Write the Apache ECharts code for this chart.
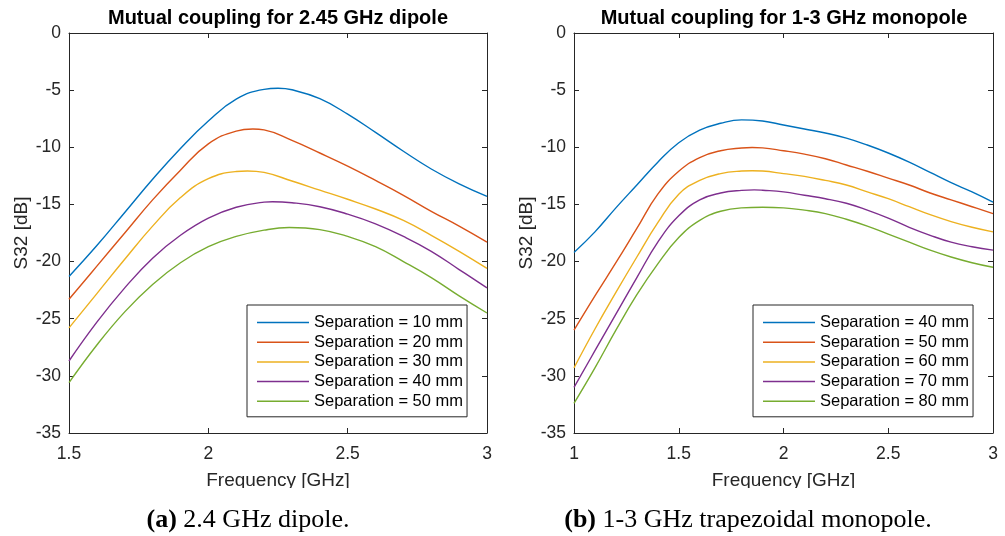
<!DOCTYPE html>
<html>
<head>
<meta charset="utf-8">
<script src="https://cdn.jsdelivr.net/npm/echarts@6/dist/echarts.min.js"></script>
<style>
html,body{margin:0;padding:0;background:#fff;}
#chart{width:1005px;height:536px;}
</style>
</head>
<body>
<div id="chart"></div>
<script>
// ---- Left plot: 2.45 GHz dipole (each series has its own frequency list) ----
const freqL10 = [1.5,1.6,1.7,1.8,1.9,2.0,2.1,2.2,2.25,2.3,2.4,2.5,2.6,2.7,2.8,2.9,3.0];
const dip10   = [-21.3,-18.6,-15.7,-12.8,-10.1,-7.7,-5.79,-4.93,-4.84,-4.97,-5.75,-7.1,-8.7,-10.35,-11.9,-13.2,-14.3];
const freqL20 = [1.5,1.6,1.7,1.8,1.9,2.0,2.1,2.16,2.2,2.3,2.4,2.5,2.6,2.7,2.8,2.9,3.0];
const dip20   = [-23.3,-20.4,-17.5,-14.6,-12.0,-9.7,-8.58,-8.4,-8.48,-9.4,-10.5,-11.65,-12.9,-14.2,-15.6,-16.9,-18.3];
const freqL30 = [1.5,1.6,1.7,1.8,1.9,2.0,2.1,2.14,2.2,2.3,2.4,2.5,2.6,2.7,2.8,2.9,3.0];
const dip30   = [-25.8,-22.8,-19.8,-16.9,-14.4,-12.75,-12.12,-12.07,-12.2,-12.95,-13.75,-14.55,-15.4,-16.4,-17.7,-19.1,-20.6];
const freqL40 = [1.5,1.6,1.7,1.8,1.9,2.0,2.1,2.2,2.23,2.3,2.4,2.5,2.6,2.7,2.8,2.9,3.0];
const dip40   = [-28.7,-25.3,-22.3,-19.7,-17.7,-16.2,-15.25,-14.8,-14.76,-14.85,-15.2,-15.85,-16.7,-17.8,-19.1,-20.7,-22.3];
const freqL50 = [1.5,1.6,1.7,1.8,1.9,2.0,2.1,2.2,2.29,2.4,2.5,2.6,2.7,2.8,2.9,3.0];
const dip50   = [-30.6,-27.3,-24.4,-22.0,-20.1,-18.7,-17.8,-17.25,-17.02,-17.2,-17.8,-18.7,-20.0,-21.4,-23.0,-24.5];
const namesL = ['Separation = 10 mm','Separation = 20 mm','Separation = 30 mm','Separation = 40 mm','Separation = 50 mm'];

// ---- Right plot: 1-3 GHz monopole ----
const freqR40 = [1.0,1.1,1.2,1.3,1.4,1.5,1.6,1.7,1.8,1.9,2.0,2.1,2.2,2.3,2.4,2.5,2.6,2.7,2.8,2.9,3.0];
const mon40   = [-19.2,-17.4,-15.3,-13.3,-11.3,-9.6,-8.5,-7.9,-7.6,-7.7,-8.05,-8.4,-8.75,-9.2,-9.8,-10.5,-11.3,-12.2,-13.1,-13.9,-14.8];
const freqR50 = [1.0,1.1,1.2,1.3,1.4,1.5,1.6,1.7,1.8,1.85,1.9,2.0,2.1,2.2,2.3,2.4,2.5,2.6,2.7,2.8,2.9,3.0];
const mon50   = [-26.0,-23.0,-20.1,-17.1,-14.1,-12.1,-10.9,-10.3,-10.06,-10.02,-10.05,-10.3,-10.6,-11.0,-11.55,-12.1,-12.7,-13.3,-14.0,-14.6,-15.2,-15.8];
const freqR60 = [1.0,1.1,1.2,1.3,1.4,1.5,1.6,1.7,1.8,1.85,1.9,2.0,2.1,2.2,2.3,2.4,2.5,2.6,2.7,2.8,2.9,3.0];
const mon60   = [-29.3,-25.9,-22.7,-19.6,-16.6,-14.1,-12.9,-12.3,-12.08,-12.05,-12.08,-12.3,-12.55,-12.9,-13.3,-13.9,-14.5,-15.2,-15.9,-16.5,-17.0,-17.4];
const freqR70 = [1.0,1.1,1.2,1.3,1.4,1.5,1.6,1.7,1.8,1.86,1.9,2.0,2.1,2.2,2.3,2.4,2.5,2.6,2.7,2.8,2.9,3.0];
const mon70   = [-31.0,-27.8,-24.6,-21.4,-18.3,-16.0,-14.6,-14.0,-13.77,-13.73,-13.76,-13.9,-14.2,-14.5,-14.9,-15.5,-16.2,-17.0,-17.7,-18.3,-18.7,-19.0];
const freqR80 = [1.0,1.1,1.2,1.3,1.4,1.5,1.6,1.7,1.8,1.9,2.0,2.1,2.2,2.3,2.4,2.5,2.6,2.7,2.8,2.9,3.0];
const mon80   = [-32.4,-29.3,-26.0,-22.9,-20.2,-17.9,-16.4,-15.6,-15.3,-15.25,-15.3,-15.5,-15.8,-16.3,-16.9,-17.6,-18.3,-19.0,-19.6,-20.1,-20.5];
const namesR = ['Separation = 40 mm','Separation = 50 mm','Separation = 60 mm','Separation = 70 mm','Separation = 80 mm'];

const titles = ['Mutual coupling for 2.45 GHz dipole','Mutual coupling for 1-3 GHz monopole'];
const captionsBold = ['(a)','(b)'];
const captionsText = [' 2.4 GHz dipole.',' 1-3 GHz trapezoidal monopole.'];
const yLabel = 'S32 [dB]';
const xLabel = 'Frequency [GHz]';

const colors = ['#0072BD','#D95319','#EDB120','#7E2F8E','#77AC30'];
const axisColor = '#262626';
const font = 'Liberation Sans, Arial, sans-serif';

function pairs(xs, ys){ return xs.map((x,i)=>[x, ys[i]]); }

const grids = [
  {left:69, top:33, width:418, height:400},
  {left:574, top:33, width:419, height:400}
];

function xAxes(gi, min, max){
  const base = {
    type:'value', gridIndex:gi, min:min, max:max, interval:0.5,
    axisLine:{show:true, onZero:false, lineStyle:{color:axisColor, width:1}},
    axisTick:{show:true, inside:true, length:5, lineStyle:{color:axisColor}},
    splitLine:{show:false}
  };
  return [
    Object.assign({}, base, {position:'bottom',
      axisLabel:{show:true, color:axisColor, fontSize:17.5, fontFamily:font, margin:12,
        formatter:v=>String(+v.toFixed(2))},
      name:xLabel, nameLocation:'middle', nameGap:38,
      nameTextStyle:{color:axisColor, fontSize:19, fontFamily:font}}),
    Object.assign({}, base, {position:'top', axisLabel:{show:false}})
  ];
}
function yAxes(gi){
  const base = {
    type:'value', gridIndex:gi, min:-35, max:0, interval:5,
    axisLine:{show:true, onZero:false, lineStyle:{color:axisColor, width:1}},
    axisTick:{show:true, inside:true, length:5, lineStyle:{color:axisColor}},
    splitLine:{show:false}
  };
  return [
    Object.assign({}, base, {position:'left',
      axisLabel:{show:true, color:axisColor, fontSize:17.5, fontFamily:font, margin:8},
      name:yLabel, nameLocation:'middle', nameGap:38, nameRotate:90,
      nameTextStyle:{color:axisColor, fontSize:19, fontFamily:font}}),
    Object.assign({}, base, {position:'right', axisLabel:{show:false}})
  ];
}

const xAxis = [...xAxes(0,1.5,3), ...xAxes(1,1,3)];
const yAxis = [...yAxes(0), ...yAxes(1)];

// unique internal series ids per panel; legend shows the real names
const idsL = namesL.map((n,i)=>'L'+i);
const idsR = namesR.map((n,i)=>'R'+i);
const labelOf = {};
idsL.forEach((id,i)=>labelOf[id]=namesL[i]);
idsR.forEach((id,i)=>labelOf[id]=namesR[i]);

const seriesL = [[freqL10,dip10],[freqL20,dip20],[freqL30,dip30],[freqL40,dip40],[freqL50,dip50]];
const seriesR = [[freqR40,mon40],[freqR50,mon50],[freqR60,mon60],[freqR70,mon70],[freqR80,mon80]];
const series = [];
seriesL.forEach((d,i)=>series.push({
  type:'line', name:idsL[i], xAxisIndex:0, yAxisIndex:0, data:pairs(d[0],d[1]),
  smooth:0.45, symbol:'none', showSymbol:false, color:colors[i],
  lineStyle:{width:1.4, color:colors[i]}, animation:false
}));
seriesR.forEach((d,i)=>series.push({
  type:'line', name:idsR[i], xAxisIndex:2, yAxisIndex:2, data:pairs(d[0],d[1]),
  smooth:0.45, symbol:'none', showSymbol:false, color:colors[i],
  lineStyle:{width:1.4, color:colors[i]}, animation:false
}));

const legendBase = {
  orient:'vertical', itemWidth:52, itemHeight:12, itemGap:2.7,
  textStyle:{color:'#000', fontSize:16.5, fontFamily:font, lineHeight:16},
  borderColor:axisColor, borderWidth:1, backgroundColor:'#fff',
  padding:[9,4,7,10], icon:'path://M0,5 L52,5 L52,6.5 L0,6.5 Z', selectedMode:false,
  formatter:n=>labelOf[n]
};

const captionRich = {
  b:{fontFamily:'Liberation Serif, Times New Roman, serif', fontWeight:'bold', fontSize:26, fill:'#000'},
  n:{fontFamily:'Liberation Serif, Times New Roman, serif', fontSize:26, fill:'#000'}
};

const option = {
  backgroundColor:'#fff',
  animation:false,
  title:[
    {text:titles[0], left:273, top:3, textAlign:'center',
     textStyle:{fontSize:20, fontWeight:'bold', color:'#000', fontFamily:font}},
    {text:titles[1], left:779, top:3, textAlign:'center',
     textStyle:{fontSize:20, fontWeight:'bold', color:'#000', fontFamily:font}}
  ],
  grid:grids,
  xAxis:xAxis,
  yAxis:yAxis,
  legend:[
    Object.assign({}, legendBase, {data:idsL, left:247, top:305}),
    Object.assign({}, legendBase, {data:idsR, left:753, top:305})
  ],
  graphic:[
    {type:'rect', shape:{x:0, y:488, width:1005, height:14}, style:{fill:'#fff'}, z:100},
    {type:'text', x:248, y:520, z:101, style:{
      text:'{b|'+captionsBold[0]+'}{n|'+captionsText[0]+'}', align:'center', verticalAlign:'middle',
      rich:captionRich}},
    {type:'text', x:748, y:520, z:101, style:{
      text:'{b|'+captionsBold[1]+'}{n|'+captionsText[1]+'}', align:'center', verticalAlign:'middle',
      rich:captionRich}}
  ],
  series:series
};

const chart = echarts.init(document.getElementById('chart'), null, {renderer:'canvas'});
chart.setOption(option);
</script>
</body>
</html>
